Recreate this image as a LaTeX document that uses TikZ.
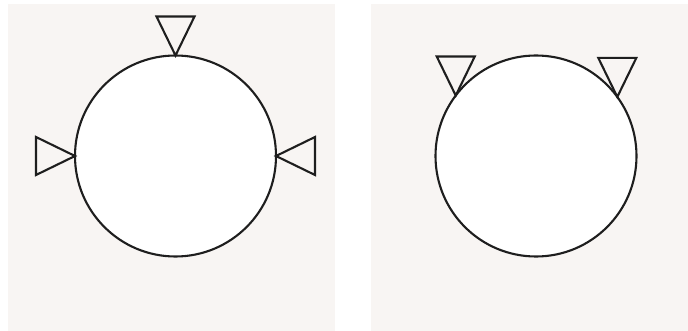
\documentclass[tikz,border=0pt]{standalone}
\usetikzlibrary{calc}
\definecolor{panelbg}{HTML}{F8F5F3}
\definecolor{ink}{HTML}{1E1E1E}
\begin{document}
\begin{tikzpicture}[x=1pt,y=-1pt,
  panel/.style={fill=panelbg,draw=none},
  ball/.style={circle,draw=ink,fill=white,line width=2.1pt,minimum size=201pt,inner sep=0pt,outer sep=0pt},
  tri/.style={draw=ink,line width=2.1pt,line join=miter}]
\useasboundingbox (0,0) rectangle (688,331);
\fill[white] (0,0) rectangle (688,331);
\path[panel] (8,4) rectangle (335,331);
\path[panel] (371,4) rectangle (688,331);
% left panel
\node[ball] (c1) at (175.5,156) {};
\coordinate (t1) at (c1.north);
\coordinate (l1) at (c1.west);
\coordinate (r1) at (c1.east);
\draw[tri] (t1) -- ($(t1)+(-19,-39)$) -- ($(t1)+(19,-39)$) -- cycle;
\draw[tri] (l1) -- ($(l1)+(-39,-19)$) -- ($(l1)+(-39,19)$) -- cycle;
\draw[tri] (r1) -- ($(r1)+(39,-19)$) -- ($(r1)+(39,19)$) -- cycle;
% right panel
\node[ball] (c2) at (536,156) {};
\coordinate (a2) at (c2.143);
\coordinate (b2) at (c2.36);
\draw[tri] (a2) -- ($(a2)+(-19,-39)$) -- ($(a2)+(19,-39)$) -- cycle;
\draw[tri] (b2) -- ($(b2)+(-19,-39)$) -- ($(b2)+(19,-39)$) -- cycle;
\end{tikzpicture}
\end{document}
